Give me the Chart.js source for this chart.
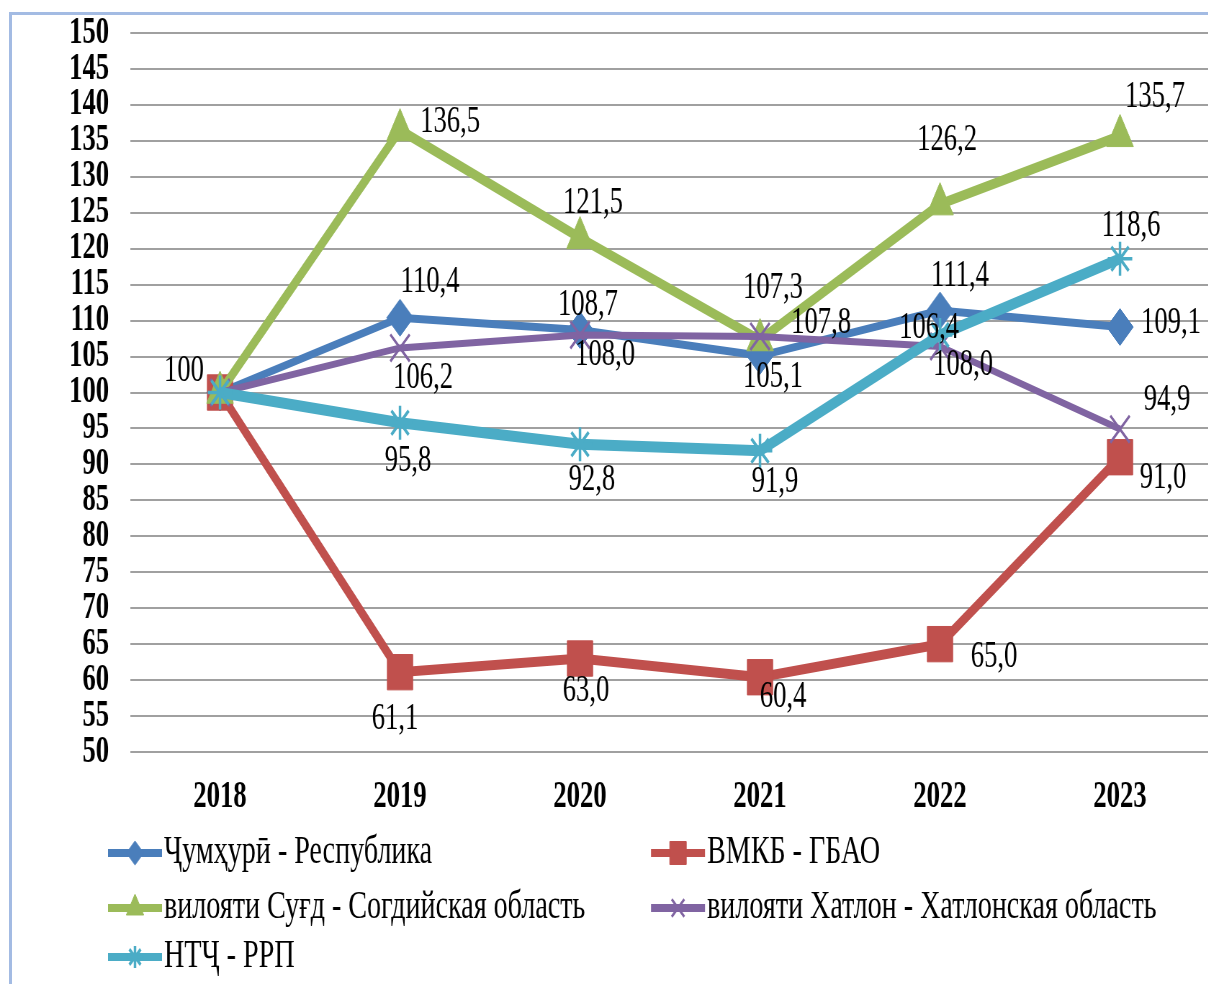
<!DOCTYPE html>
<html>
<head>
<meta charset="utf-8">
<script src="https://cdn.jsdelivr.net/npm/chart.js@4.4.1/dist/chart.umd.min.js"></script>
<style>
  html, body { margin: 0; padding: 0; background: #fff; overflow: hidden; }
  #frame { position: absolute; left: 9px; top: 12px; width: 1230px; height: 1010px; border: 3px solid #a3bbe3; }
  #wrap { position: absolute; left: 0; top: 0; height: 984px; transform-origin: 0 0; }
</style>
</head>
<body>
<div id="frame"></div>
<div id="wrap"><canvas id="chart"></canvas></div>
<script>
// data
const years = ['2018', '2019', '2020', '2021', '2022', '2023'];
const respublika = [100, 110.4, 108.7, 105.1, 111.4, 109.1];
const gbao = [100, 61.1, 63.0, 60.4, 65.0, 91.0];
const sughd = [100, 136.5, 121.5, 107.3, 126.2, 135.7];
const khatlon = [100, 106.2, 108.0, 107.8, 106.4, 94.9];
const rrp = [100, 95.8, 92.8, 91.9, 108.0, 118.6];
const seriesNames = [
  'Ҷумҳурӣ - Республика',
  'ВМКБ - ГБАО',
  'вилояти Суғд - Согдийская область',
  'вилояти Хатлон - Хатлонская область',
  'НТҶ - РРП'
];
const yMin = 50, yMax = 150, yStep = 5;

// where each value label sits relative to its point (px), null = no label
const offRespublika = [[-36, -21], [30, -35], [8, -25], [13, 21], [20, -34], [51, -4]];
const offGbao = [null, [-5, 47], [6, 33], [23, 20], [54, 13], [43, 21]];
const offSughd = [null, [50, -8], [13, -35], [13, -52], [7, -64], [35, -39]];
const offKhatlon = [null, [23, 30], [25, 20], [61, -13], [-11, -18], [47, -29]];
const offRrp = [null, [8, 39], [12, 36], [15, 32], [23, 30], [11, -32]];

// picture is squeezed horizontally
const SX = 0.72;
const W = Math.ceil(1214 / SX);
const wrap = document.getElementById('wrap');
wrap.style.width = W + 'px';
wrap.style.transform = 'scaleX(' + SX + ')';

const serif = "'Liberation Serif', 'Times New Roman', serif";
Chart.defaults.font.family = serif;
Chart.defaults.color = '#000';

const legendCols = [108, 651];
const legendRows = [853, 908, 957];

const valueLabels = {
  id: 'valueLabels',
  afterDatasetsDraw(chart) {
    const ctx = chart.ctx;
    ctx.save();
    ctx.font = '37px ' + serif;
    ctx.fillStyle = '#000';
    ctx.textAlign = 'center';
    ctx.textBaseline = 'middle';
    chart.data.datasets.forEach((ds, di) => {
      const meta = chart.getDatasetMeta(di);
      meta.data.forEach((pt, i) => {
        const off = ds.labelOffsets[i];
        if (!off) return;
        const v = ds.data[i];
        const txt = i === 0 ? String(v) : v.toFixed(1).replace('.', ',');
        ctx.fillText(txt, pt.x + off[0] / SX, pt.y + off[1]);
      });
    });
    ctx.restore();
  }
};

const gridLegend = {
  id: 'gridLegend',
  afterDraw(chart) {
    const ctx = chart.ctx;
    chart.data.datasets.forEach((ds, i) => {
      const col = i % 2, row = Math.floor(i / 2);
      const x0 = legendCols[col] / SX;
      const x1 = (legendCols[col] + 54) / SX;
      const y = legendRows[row];
      ctx.save();
      ctx.strokeStyle = ds.borderColor;
      ctx.lineWidth = 8;
      ctx.beginPath();
      ctx.moveTo(x0, y);
      ctx.lineTo(x1, y);
      ctx.stroke();
      ctx.fillStyle = ds.pointBackgroundColor;
      ctx.strokeStyle = ds.pointBorderColor;
      ctx.lineWidth = ds.pointBorderWidth;
      Chart.helpers.drawPoint(ctx, {
        pointStyle: ds.pointStyle,
        radius: ds.pointRadius * 0.65,
        borderWidth: ds.pointBorderWidth,
        rotation: 0
      }, (x0 + x1) / 2, y);
      ctx.fillStyle = '#000';
      ctx.font = '39px ' + serif;
      ctx.textAlign = 'left';
      ctx.textBaseline = 'middle';
      ctx.fillText(ds.label, x1 + 2 / SX, y);
      ctx.restore();
    });
  }
};

function series(label, data, color, width, style, radius, pbw, offsets, order) {
  return {
    label, data,
    borderColor: color,
    backgroundColor: color,
    borderWidth: width,
    pointStyle: style,
    pointRadius: radius,
    pointHoverRadius: radius,
    pointBackgroundColor: color,
    pointBorderColor: color,
    pointBorderWidth: pbw,
    tension: 0,
    fill: false,
    labelOffsets: offsets,
    order
  };
}

new Chart(document.getElementById('chart'), {
  type: 'line',
  data: {
    labels: years,
    datasets: [
      series(seriesNames[0], respublika, '#4a7ebb', 8, 'rectRot', 18.5, 1, offRespublika, 5),
      series(seriesNames[1], gbao, '#c0504d', 10, 'rect', 25, 1, offGbao, 4),
      series(seriesNames[2], sughd, '#9bbb59', 10, 'triangle', 21.5, 1, offSughd, 3),
      series(seriesNames[3], khatlon, '#8064a2', 7, 'crossRot', 19, 3, offKhatlon, 2),
      series(seriesNames[4], rrp, '#4bacc6', 11, 'star', 17, 3.5, offRrp, 1)
    ]
  },
  options: {
    responsive: true,
    maintainAspectRatio: false,
    animation: false,
    devicePixelRatio: 1,
    layout: {
      autoPadding: false,
      padding: { top: 33, left: 0, right: W - 1210 / SX, bottom: 172 }
    },
    plugins: { legend: { display: false }, tooltip: { enabled: false } },
    scales: {
      x: {
        offset: true,
        grid: { display: false, drawTicks: false },
        border: { display: false },
        ticks: { font: { size: 37, weight: 'bold' }, color: '#000', padding: 23, maxRotation: 0 },
        afterFit(s) { s.height = 60; s.paddingLeft = 0; s.paddingRight = 0; }
      },
      y: {
        min: yMin,
        max: yMax,
        grid: { color: '#a0a0a0', lineWidth: 2, drawTicks: false },
        border: { display: false },
        ticks: {
          stepSize: yStep, autoSkip: false,
          font: { size: 37, weight: 'bold', lineHeight: 1 },
          color: '#000', padding: 29
        },
        afterFit(s) { s.width = 130 / SX; s.paddingTop = 0; s.paddingBottom = 0; }
      }
    }
  },
  plugins: [valueLabels, gridLegend]
});
</script>
</body>
</html>
